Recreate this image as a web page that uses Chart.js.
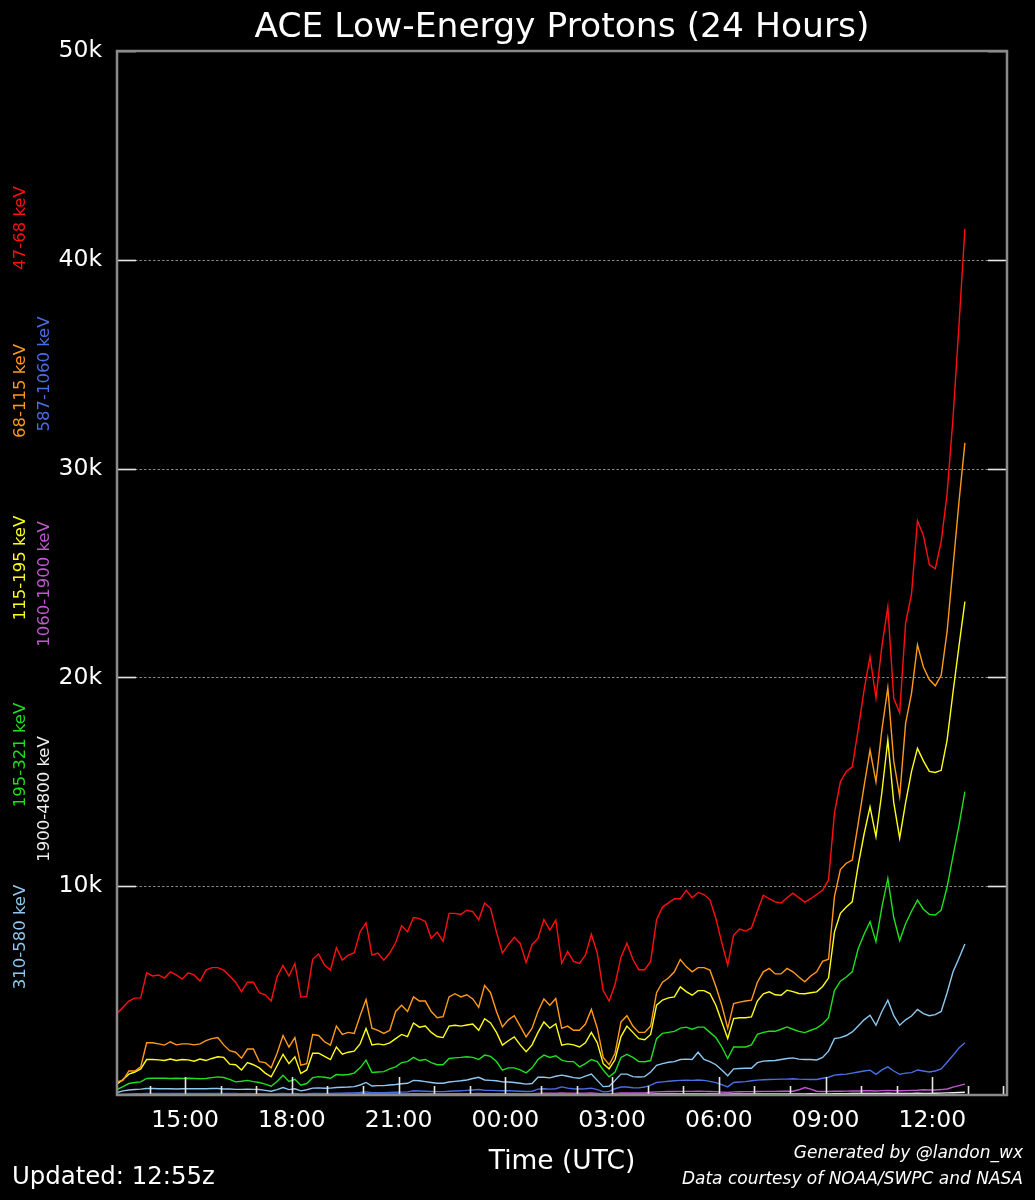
<!DOCTYPE html>
<html><head><meta charset="utf-8">
<script src="https://cdn.jsdelivr.net/npm/chart.js@4/dist/chart.umd.min.js"></script>
<style>
html,body{margin:0;padding:0;background:#000;}
#wrap{position:relative;width:1035px;height:1200px;background:#000;}
canvas{display:block;}
</style></head><body>
<div id="wrap"><canvas id="c" width="1035" height="1200"></canvas></div>
<script>
// ---- time axis (hours since 00:00 UTC of first day), 10-minute samples ----
const startHour = 13 + 5/60;
const stepHours = 10/60;
const xMin = 13 + 5/60;
const xMax = 38.1;

const majorTickHours = [15, 18, 21, 24, 27, 30, 33, 36];
const tickLabels = ['15:00','18:00','21:00','00:00','03:00','06:00','09:00','12:00'];
const minorTickHours = [14,16,17,19,20,22,23,25,26,28,29,31,32,34,35,37,38];
const yTickValues = [10000, 20000, 30000, 40000, 50000];
const yTickLabels = ['10k','20k','30k','40k','50k'];
const gridValues = [10000, 20000, 30000, 40000];

// ---- series (particles / cm2-s-sr-MeV) ----
const p47_68 = [
3900,4200,4500,4640,4650,5850,5700,5750,5600,5900,
5750,5550,5850,5750,5460,5980,6100,6100,5980,5700,
5400,4950,5400,5400,4900,4800,4500,5660,6200,5700,
6300,4690,4720,6500,6750,6220,5980,7050,6460,6700,
6800,7820,8250,6700,6800,6460,6800,7300,8100,7820,
8500,8450,8310,7500,7800,7360,8700,8700,8650,8850,
8780,8380,9200,8940,7800,6790,7200,7550,7260,6350,
7200,7500,8400,7900,8380,6310,6870,6400,6300,6700,
7700,6800,5000,4500,5300,6600,7270,6500,6000,6000,
6400,8400,9000,9200,9400,9400,9800,9450,9700,9600,
9350,8450,7300,6220,7660,7950,7850,8000,8800,9570,
9400,9250,9200,9450,9670,9450,9240,9400,9600,9800,
10300,13500,15000,15500,15720,17500,19400,20990,19010,21500,
23380,19000,18300,22600,24000,27500,26800,25400,25200,26500,
28800,32450,36850,41490];
const p68_115 = [
630,700,1150,1150,1350,2500,2500,2450,2390,2550,
2400,2450,2450,2400,2450,2600,2700,2750,2400,2120,
2050,1760,2200,2200,1600,1550,1300,2000,2850,2300,
2750,1430,1500,2900,2850,2550,2390,3300,2900,3000,
2950,3800,4570,3200,3100,2950,3100,4000,4300,4000,
4700,4500,4500,4000,3700,3750,4700,4850,4700,4800,
4600,4200,5250,4900,4000,3260,3600,3800,3300,2780,
3200,4000,4600,4300,4620,3190,3300,3100,3100,3400,
4100,3200,1800,1450,2000,3500,3800,3300,3000,3000,
3300,4900,5400,5600,5900,6490,6150,5900,6100,6100,
5980,5200,4300,3190,4380,4450,4500,4540,5400,5900,
6060,5800,5800,6060,5900,5650,5420,5700,5900,6400,
6500,9500,10800,11100,11250,13000,14800,16520,15000,17500,
19500,16000,14300,17800,19250,21560,20500,19900,19600,20100,
22200,25300,28400,31230];
const p115_195 = [
520,740,1000,1100,1250,1700,1700,1680,1650,1720,
1650,1700,1680,1620,1720,1650,1750,1830,1800,1480,
1450,1200,1550,1450,1300,1050,870,1400,1950,1500,
1830,1030,1200,2000,2000,1850,1700,2300,1950,2050,
2100,2450,3190,2400,2450,2400,2500,2700,2900,2800,
3450,3250,3300,3000,2800,2750,3300,3340,3300,3350,
3400,3100,3650,3450,3000,2390,2600,2780,2400,2070,
2400,3000,3500,3200,3410,2390,2450,2400,2300,2500,
3000,2500,1500,1250,1700,2800,3300,3000,2700,2650,
2900,4300,4550,4650,4700,5180,4950,4780,5000,5000,
4860,4300,3500,2710,3660,3700,3700,3740,4500,4850,
4940,4800,4780,5020,4950,4860,4850,4900,4940,5200,
5600,7800,8700,9000,9250,11000,12500,13800,12370,14500,
17000,14000,12300,14000,15500,16600,16000,15500,15450,15550,
17000,19300,21500,23630];
const p195_321 = [
260,400,550,600,630,790,800,810,800,790,
800,790,800,790,780,790,830,870,840,750,
630,660,700,640,600,520,420,650,950,650,
750,470,550,830,880,850,800,980,960,980,
1050,1300,1670,1080,1100,1120,1250,1350,1550,1600,
1800,1650,1700,1550,1450,1450,1750,1780,1800,1830,
1800,1700,1910,1850,1600,1190,1300,1300,1200,1060,
1300,1700,1910,1800,1880,1670,1600,1600,1350,1500,
1700,1600,1200,870,1100,1800,1950,1800,1600,1590,
1650,2700,2950,3000,3050,3200,3250,3150,3250,3250,
3000,2750,2300,1750,2300,2300,2300,2400,2900,3000,
3050,3050,3150,3260,3150,3050,2990,3100,3200,3400,
3700,5000,5450,5650,5900,7000,7700,8300,7340,9000,
10370,8500,7400,8200,8800,9330,8900,8650,8620,8850,
9960,11450,12900,14530];
const p310_580 = [
120,200,240,260,280,310,310,300,300,300,
290,300,300,300,300,300,310,310,290,290,
270,270,280,270,260,220,180,260,360,260,
300,200,250,330,340,320,330,360,370,380,
400,480,600,430,450,450,480,500,540,560,
700,680,640,600,560,560,620,650,680,720,
790,850,720,700,680,630,620,600,560,520,
550,850,850,820,900,950,900,830,800,900,
1000,700,400,420,700,1000,1000,880,860,880,
1100,1420,1500,1570,1600,1700,1720,1700,2050,1700,
1600,1450,1200,920,1250,1270,1280,1280,1550,1620,
1640,1650,1700,1750,1780,1720,1700,1700,1680,1800,
2100,2700,2750,2850,3020,3300,3600,3820,3340,4000,
4540,3800,3340,3600,3780,4100,3900,3800,3850,4000,
4900,5900,6550,7230];
const p587_1060 = [
30,40,50,60,60,70,70,70,70,70,
70,70,70,70,70,70,75,75,75,70,
70,65,70,65,60,55,50,60,80,60,
70,50,60,80,80,80,80,90,90,95,
100,120,150,110,110,110,120,130,140,150,
200,190,180,170,160,160,180,190,200,220,
240,260,230,220,210,200,200,190,180,170,
180,280,300,280,300,390,330,300,290,300,
330,260,150,170,300,380,380,350,340,380,
470,600,630,660,680,700,710,700,720,700,
650,590,500,390,600,620,640,680,710,730,
740,750,760,760,780,760,750,740,740,800,
850,950,980,1000,1050,1100,1150,1190,990,1200,
1350,1150,990,1050,1070,1200,1150,1100,1150,1250,
1570,1900,2250,2500];
const p1060_1900 = [
20,20,20,20,20,20,20,20,20,20,
20,20,20,20,20,20,20,20,20,20,
20,20,20,20,20,20,20,20,25,20,
20,20,20,25,25,25,25,25,30,30,
30,35,40,35,35,35,35,40,40,45,
50,50,50,50,50,50,55,55,60,60,
65,70,65,60,60,60,60,60,55,55,
60,80,90,90,90,100,90,90,85,90,
100,80,50,55,80,100,100,95,95,100,
130,150,160,165,170,175,175,175,180,175,
170,160,140,120,150,155,160,160,170,175,
175,175,180,180,180,250,360,280,180,170,
175,180,180,185,190,195,200,205,195,210,
220,210,200,210,220,230,250,240,240,260,
290,380,450,520];
const p1900_4800 = [
20,20,20,20,25,25,25,25,25,25,
25,25,25,25,25,25,25,25,25,25,
25,25,25,25,25,25,20,25,30,25,
25,20,20,25,25,25,25,30,30,30,
30,30,35,30,30,30,30,30,30,30,
35,35,35,35,30,30,35,35,35,35,
35,35,35,35,30,30,30,30,30,30,
30,35,35,35,35,35,35,35,30,30,
35,30,25,25,30,35,35,35,35,35,
40,45,45,45,45,50,50,50,50,50,
50,45,40,35,45,45,45,45,50,50,
50,50,50,50,50,50,55,60,55,50,
55,60,65,65,70,70,75,80,70,80,
90,80,70,75,80,85,80,80,85,90,
100,110,120,130];

const seriesNames  = ['47-68 keV','68-115 keV','115-195 keV','195-321 keV','310-580 keV','587-1060 keV','1060-1900 keV','1900-4800 keV'];
const seriesValues = [p47_68, p68_115, p115_195, p195_321, p310_580, p587_1060, p1060_1900, p1900_4800];
const seriesColors = ['#ff1010','#ff9a1a','#ffff1a','#1ee01e','#8ec8f0','#4a6ee6','#c058d0','#f0f0f0'];
// legend label placement (left margin, rotated)
const legendPos = [[20.5,228],[20.5,391],[20.5,568],[20.5,755],[20.5,937],[44.5,374],[44.5,584],[44.5,799]];

const times = p47_68.map((_, i) => startHour + i * stepHours);

const FONT = "'DejaVu Sans', sans-serif";
Chart.defaults.font.family = FONT;

const decor = {
  id: 'decor',
  beforeDatasetsDraw(chart) {
    const {ctx, chartArea: a, scales: {y}} = chart;
    ctx.save();
    ctx.strokeStyle = 'rgba(150,150,150,0.9)';
    ctx.lineWidth = 1;
    ctx.setLineDash([2.5, 2]);
    gridValues.forEach(v => {
      const py = Math.round(y.getPixelForValue(v)) + 0.5;
      ctx.beginPath(); ctx.moveTo(a.left, py); ctx.lineTo(a.right, py); ctx.stroke();
    });
    ctx.restore();
  },
  afterDatasetsDraw(chart) {
    const {ctx, chartArea: a, scales: {x, y}} = chart;
    ctx.save();
    ctx.strokeStyle = '#e6e6e6';
    ctx.lineWidth = 1.6;
    yTickValues.forEach(v => {
      const py = Math.round(y.getPixelForValue(v)) + 0.5;
      ctx.beginPath(); ctx.moveTo(a.left, py); ctx.lineTo(a.left + 19, py); ctx.stroke();
      ctx.beginPath(); ctx.moveTo(a.right - 19, py); ctx.lineTo(a.right, py); ctx.stroke();
    });
    majorTickHours.forEach(h => {
      const px = Math.round(x.getPixelForValue(h)) + 0.5;
      ctx.beginPath(); ctx.moveTo(px, a.bottom); ctx.lineTo(px, a.bottom - 18); ctx.stroke();
    });
    minorTickHours.forEach(h => {
      if (h > xMax) return;
      const px = Math.round(x.getPixelForValue(h)) + 0.5;
      ctx.beginPath(); ctx.moveTo(px, a.bottom); ctx.lineTo(px, a.bottom - 9); ctx.stroke();
    });
    ctx.strokeStyle = '#8a8a8a';
    ctx.lineWidth = 2.5;
    ctx.strokeRect(a.left, a.top, a.right - a.left, a.bottom - a.top);
    ctx.restore();
  },
  afterDraw(chart) {
    const {ctx, chartArea: a} = chart;
    const cx = (a.left + a.right) / 2;
    ctx.save();
    ctx.fillStyle = '#ffffff';
    ctx.textBaseline = 'alphabetic';
    ctx.textAlign = 'center';
    ctx.font = `34.5px ${FONT}`;
    ctx.fillText('ACE Low-Energy Protons (24 Hours)', cx, 37);
    ctx.font = `26.5px ${FONT}`;
    ctx.fillText('Time (UTC)', cx, 1169);
    ctx.textAlign = 'left';
    ctx.font = `24.4px ${FONT}`;
    ctx.fillText('Updated: 12:55z', 12, 1184);
    ctx.textAlign = 'right';
    ctx.font = `italic 17px ${FONT}`;
    ctx.fillText('Generated by @landon_wx', 1023, 1158);
    ctx.fillText('Data courtesy of NOAA/SWPC and NASA', 1023, 1184);
    ctx.font = `16.5px ${FONT}`;
    ctx.textAlign = 'center';
    ctx.textBaseline = 'middle';
    seriesNames.forEach((name, i) => {
      const [lx, ly] = legendPos[i];
      ctx.save();
      ctx.translate(lx, ly);
      ctx.rotate(-Math.PI / 2);
      ctx.fillStyle = seriesColors[i];
      ctx.fillText(name, 0, 0);
      ctx.restore();
    });
    ctx.restore();
  }
};

new Chart(document.getElementById('c'), {
  type: 'line',
  data: {
    datasets: seriesNames.map((name, k) => ({
      label: name,
      data: seriesValues[k].map((v, i) => ({x: times[i], y: v})),
      borderColor: seriesColors[k],
      borderWidth: 1.4,
      pointRadius: 0,
      tension: 0,
      fill: false
    }))
  },
  options: {
    responsive: false,
    animation: false,
    devicePixelRatio: 1,
    layout: {padding: {left: 0, right: 28, top: 51, bottom: 0}},
    plugins: {legend: {display: false}, tooltip: {enabled: false}, title: {display: false}},
    scales: {
      x: {
        type: 'linear', min: xMin, max: xMax,
        border: {display: false},
        grid: {display: false, drawTicks: false},
        afterBuildTicks: s => { s.ticks = majorTickHours.map(v => ({value: v})); },
        afterFit: s => { s.height = 105; },
        ticks: {
          color: '#ffffff', font: {size: 23.5, family: FONT}, padding: 12,
          maxRotation: 0, minRotation: 0, autoSkip: false,
          callback: v => tickLabels[majorTickHours.indexOf(v)]
        }
      },
      y: {
        type: 'linear', min: 0, max: 50000,
        border: {display: false},
        grid: {display: false, drawTicks: false},
        afterBuildTicks: s => { s.ticks = yTickValues.map(v => ({value: v})); },
        afterFit: s => { s.width = 117; },
        ticks: {
          color: '#ffffff', font: {size: 23.5, family: FONT}, padding: 15,
          autoSkip: false,
          callback: v => yTickLabels[yTickValues.indexOf(v)]
        }
      }
    }
  },
  plugins: [decor]
});
</script>
</body></html>
